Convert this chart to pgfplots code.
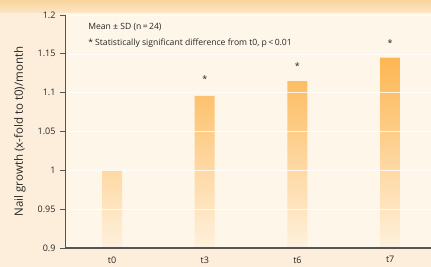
\documentclass[border=0pt]{standalone}
\usepackage{fontspec}
\setmainfont{Open Sans}
\usepackage{pgfplots}
\pgfplotsset{compat=1.18}
\definecolor{bgout}{HTML}{FCEEDA}
\definecolor{bandtop}{HTML}{F9D49C}
\definecolor{bandbot}{HTML}{FCE6C6}
\definecolor{bgin}{HTML}{FEF6E9}
\definecolor{barTop}{HTML}{FDB653}
\definecolor{barBot}{HTML}{FEF1DD}
\definecolor{axisgray}{HTML}{555555}
\definecolor{textgray}{HTML}{262626}
\begin{document}
\begin{tikzpicture}[x=1pt,y=1pt]
\useasboundingbox (0,0) rectangle (431,267);
\fill[bgout] (0,0) rectangle (431,267);
\shade[top color=bandtop,bottom color=bandbot] (0,254) rectangle (431,267);
\fill[bgin] (65,19) rectangle (431,254);
\begin{axis}[
  at={(65pt,19pt)}, anchor=south west,
  scale only axis, width=366pt, height=233pt,
  xmin=-0.507, xmax=3.44, ymin=0.9, ymax=1.2,
  y coord trafo/.code={\pgfmathparse{#1-0.9}},
  y coord inv trafo/.code={\pgfmathparse{#1+0.9}},
  axis x line=bottom, axis y line=left,
  axis line style={-, color=axisgray},
  x axis line style={line width=1.6pt},
  y axis line style={line width=0.9pt},
  xtick={0,1,2,3}, xticklabels={t0,t3,t6,t7},
  x tick style={draw=none},
  ytick={0.9,0.95,1,1.05,1.1,1.15,1.2},
  yticklabels={0.9,0.95,1,1.05,1.1,1.15,1.2},
  y tick style={color=axisgray, line width=0.8pt},
  tick align=outside, major tick length=5pt,
  ymajorgrids, grid style={white, line width=0.6pt, opacity=0.8},
  axis on top,
  tick label style={font=\fontsize{9}{10}\selectfont, text=textgray},
  yticklabel style={xshift=-1pt},
  xticklabel style={yshift=0pt},
  ylabel={Nail growth (x-fold to t0)/month},
  ylabel style={font=\fontsize{11.5}{13}\selectfont, text=textgray, at={(axis description cs:-0.123,0.5)}, anchor=center},
]
\addplot[ybar, bar width=20pt, bar shift=0pt, draw=none, top color=barTop, bottom color=barBot]
  coordinates {(0,1.0) (1,1.096) (2,1.115) (3,1.145)};
\node[font=\fontsize{9}{9}\selectfont, text=textgray] at (axis cs:1,1.117) {*};
\node[font=\fontsize{9}{9}\selectfont, text=textgray] at (axis cs:2,1.134) {*};
\node[font=\fontsize{9}{9}\selectfont, text=textgray] at (axis cs:3,1.164) {*};
\node[anchor=west, font=\fontsize{8.6}{10}\selectfont, text=textgray, inner sep=0pt] at (rel axis cs:0.063,0.948) {Mean ± SD (n\,=\,24)};
\node[anchor=west, font=\fontsize{8.6}{10}\selectfont, text=textgray, inner sep=0pt] at (rel axis cs:0.063,0.880) {* Statistically significant difference from t0, p\,<\,0.01};
\end{axis}
\end{tikzpicture}
\end{document}
